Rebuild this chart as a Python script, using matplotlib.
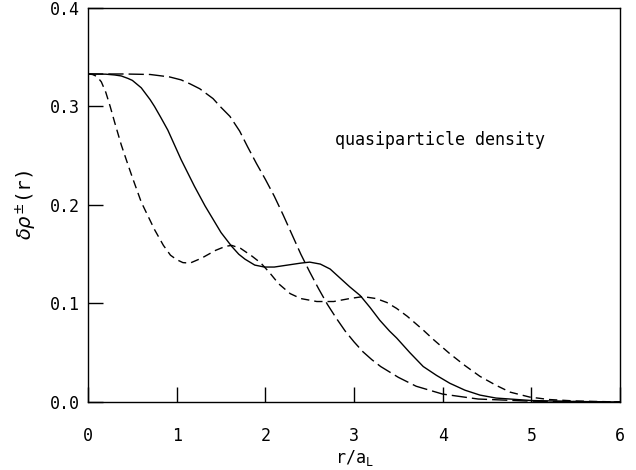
import matplotlib
matplotlib.use("Agg")
from matplotlib import pyplot as plt

# short-dashed curve
r_short = [0.00, 0.05, 0.10, 0.15, 0.20, 0.25, 0.30, 0.375, 0.45, 0.50,
           0.60, 0.75, 0.85, 0.93, 1.00, 1.07, 1.15, 1.28, 1.44, 1.55, 1.62,
           1.72, 1.85, 1.95, 2.05, 2.15, 2.28, 2.40, 2.58, 2.77, 2.95,
           3.10, 3.25, 3.37, 3.48, 3.60, 3.78, 3.90, 4.08, 4.25, 4.42,
           4.60, 4.76, 4.98, 5.20, 5.50, 6.00]
rho_short = [0.333, 0.3325, 0.3305, 0.325, 0.3145, 0.300, 0.284, 0.261, 0.241, 0.228,
             0.203, 0.175, 0.159, 0.149, 0.1445, 0.1415, 0.141, 0.146, 0.154, 0.158, 0.159,
             0.156, 0.148, 0.141, 0.131, 0.120, 0.110, 0.105, 0.102, 0.102, 0.105,
             0.107, 0.105, 0.101, 0.095, 0.087, 0.073, 0.063, 0.049, 0.037, 0.026,
             0.017, 0.010, 0.005, 0.0025, 0.001, 0.0]

# solid curve
r_solid = [0.00, 0.20, 0.30, 0.375, 0.45, 0.50, 0.60, 0.70, 0.75, 0.82, 0.90,
           1.05, 1.20, 1.32, 1.40, 1.50, 1.62, 1.70, 1.77, 1.88, 1.99,
           2.10, 2.25, 2.40, 2.50, 2.62, 2.73, 2.84, 2.95, 3.07, 3.18,
           3.29, 3.40, 3.48, 3.63, 3.78, 3.93, 4.08, 4.25, 4.42, 4.60,
           4.76, 5.00, 5.50, 6.00]
rho_solid = [0.333, 0.3328, 0.332, 0.331, 0.3285, 0.3265, 0.319, 0.307, 0.300, 0.289, 0.276,
             0.246, 0.219, 0.199, 0.187, 0.172, 0.158, 0.150, 0.145, 0.139, 0.137,
             0.137, 0.139, 0.141, 0.142, 0.140, 0.135, 0.126, 0.117, 0.108, 0.096,
             0.083, 0.072, 0.065, 0.050, 0.036, 0.027, 0.019, 0.012, 0.007, 0.004,
             0.003, 0.0015, 0.0005, 0.0]

# long-dashed curve
r_long = [0.00, 0.40, 0.70, 0.92, 1.05, 1.15, 1.26, 1.41, 1.49, 1.60,
          1.71, 1.80, 1.90, 2.00, 2.10, 2.20, 2.30, 2.40, 2.50, 2.60,
          2.70, 2.80, 2.90, 3.00, 3.10, 3.20, 3.30, 3.50, 3.70, 4.00,
          4.40, 5.00, 6.00]
rho_long = [0.333, 0.333, 0.3325, 0.330, 0.327, 0.323, 0.318, 0.308, 0.300, 0.290,
            0.275, 0.259, 0.242, 0.226, 0.209, 0.190, 0.170, 0.150, 0.132, 0.115,
            0.099, 0.085, 0.072, 0.061, 0.051, 0.043, 0.036, 0.025, 0.016, 0.008,
            0.003, 0.0008, 0.0]

x_ticks = [0, 1, 2, 3, 4, 5, 6]
y_ticks = [0.0, 0.1, 0.2, 0.3, 0.4]

plt.rcParams["font.family"] = ["DejaVu Sans Mono", "DejaVu Sans"]
plt.rcParams["mathtext.fontset"] = "dejavusans"

fig = plt.figure(figsize=(6.36, 4.70), dpi=100)
ax = fig.add_axes([0.1384, 0.1447, 0.8366, 0.8383])

ax.plot(r_short, rho_short, color="black", lw=1.0, dashes=(6, 3.6))
ax.plot(r_solid, rho_solid, color="black", lw=1.0)
ax.plot(r_long, rho_long, color="black", lw=1.0, dashes=(11, 3.6))

ax.set_xlim(0, 6)
ax.set_ylim(0, 0.4)
ax.set_xticks(x_ticks)
ax.set_yticks(y_ticks)
ax.set_xticklabels([str(t) for t in x_ticks])
ax.set_yticklabels([f"{t:.1f}" for t in y_ticks])
ax.tick_params(axis="x", direction="in", length=11, width=1.0, pad=18, labelsize=12)
ax.tick_params(axis="y", direction="in", length=11, width=1.0, pad=6, labelsize=12)
for s in ax.spines.values():
    s.set_linewidth(1.0)

ax.text(2.78, 0.266, "quasiparticle density", fontsize=12, va="center", ha="left")

ax.set_xlabel(r"r/a$_\mathregular{L}$", fontsize=12, labelpad=2)
ax.set_ylabel(r"$\delta\rho^{\pm}$(r)", fontsize=14, labelpad=8)

fig.savefig("out.png", dpi=100)
